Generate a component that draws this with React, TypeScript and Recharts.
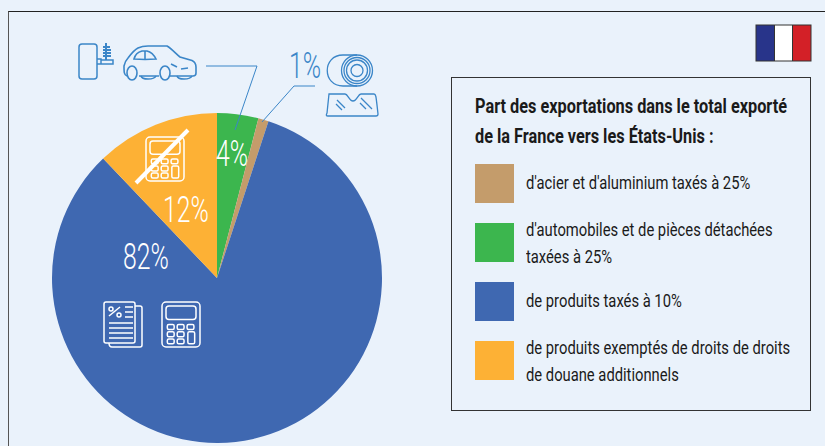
import { PieChart, Pie, Cell, Legend } from "recharts";

const sliceNames = ["automobiles", "acier", "produits taxés", "exemptés"];
const sliceValues = [4, 1, 82, 12];
const sliceColors = ["#3cb64e", "#c49c6b", "#3f68b1", "#fdb135"];

const legendTitle = ["Part des exportations dans le total exporté", "de la France vers les États-Unis :"];
const legendColors = ["#c49c6b", "#3cb64e", "#3f68b1", "#fdb135"];
const legendLabels = [
  ["d'acier et d'aluminium taxés à 25%"],
  ["d'automobiles et de pièces détachées", "taxées à 25%"],
  ["de produits taxés à 10%"],
  ["de produits exemptés de droits de droits", "de douane additionnels"],
];
const legendTops = [164, 223, 282, 341];

const font = "Roboto, sans-serif";
const blue = "#3b86c8";

const pieData = sliceNames.map((name, i) => ({ name, value: sliceValues[i] }));

function LegendBox() {
  return (
    <div style={{ position: "relative", width: 360, height: 334, boxSizing: "border-box", border: "1px solid #333", fontFamily: font, color: "#1a1a1a" }}>
      {legendTitle.map((t, i) => (
        <div
          key={t}
          style={{ position: "absolute", left: 23, top: 13 + i * 30, fontSize: 20, fontWeight: 700, whiteSpace: "nowrap", lineHeight: "30px", transform: "scaleX(0.815)", transformOrigin: "left" }}
        >
          {t}
        </div>
      ))}
      {legendColors.map((c, i) => (
        <div key={c}>
          <div style={{ position: "absolute", left: 23, top: legendTops[i] - 78, width: 39, height: 39, background: c }} />
          {legendLabels[i].map((l, j) => (
            <div
              key={l}
              style={{
                position: "absolute",
                left: 74,
                top: legendTops[i] - 78 + (legendLabels[i].length === 1 ? 5 : -7 + j * 27),
                fontSize: 18,
                lineHeight: "27px",
                whiteSpace: "nowrap",
                transform: "scaleX(0.82)",
                transformOrigin: "left",
              }}
            >
              {l}
            </div>
          ))}
        </div>
      ))}
    </div>
  );
}

function PctLabel({ x, y, value, fill }: { x: number; y: number; value: number; fill: string }) {
  return (
    <text x={x} y={y} fill={fill} fontSize={37} fontWeight={300} fontFamily={font} textAnchor="middle" transform={`translate(${x} 0) scale(0.67 1) translate(${-x} 0)`}>
      {value}%
    </text>
  );
}

function Calculator({ x, y, w, h }: { x: number; y: number; w: number; h: number }) {
  const cols = [0.14, 0.4, 0.66];
  const rows = [0.5, 0.66, 0.82];
  return (
    <g fill="none" stroke="#fff" strokeWidth={1.5}>
      <rect x={x} y={y} width={w} height={h} rx={4} />
      <rect x={x + 4} y={y + 4} width={w - 8} height={h * 0.3} rx={3} />
      {rows.map((r, i) =>
        cols.map((c, j) =>
          j === 2 && i > 0 ? null : (
            <rect key={`${i}-${j}`} x={x + w * c} y={y + h * r} width={w * 0.18} height={h * 0.11} rx={1.5} />
          ),
        ),
      )}
      <rect x={x + w * 0.68} y={y + h * 0.66} width={w * 0.18} height={h * 0.27} rx={1.5} />
    </g>
  );
}

function Overlay() {
  return (
    <svg width={825} height={446} style={{ position: "absolute", left: 0, top: 0, pointerEvents: "none" }}>
      {/* flag */}
      <rect x={756} y={25} width={19} height={36} fill="#28348a" />
      <rect x={775} y={25} width={18} height={36} fill="#fff" />
      <rect x={793} y={25} width={18} height={36} fill="#d32027" />
      <rect x={756} y={25} width={55} height={36} fill="none" stroke="#333" strokeWidth={1} />
      <path d="M774.5 25V61M792.5 25V61" stroke="#333" />

      {/* leaders */}
      <path d="M206 66H257L235 130" fill="none" stroke={blue} strokeWidth={1} />
      <path d="M315 86H294L262 122" fill="none" stroke={blue} strokeWidth={1} />

      {/* wheel and suspension */}
      <g fill="none" stroke={blue} strokeWidth={1.5}>
        <rect x={79} y={44} width={18} height={35} rx={3} />
        <path d="M97 59H101V64H97M101 60H113V64H101" />
        <path d="M106 60V43M103 47H110M103 50H111M103 53H111M103 56H111" strokeWidth={2} />
      </g>

      {/* car */}
      <g fill="none" stroke={blue} strokeWidth={1.6}>
        <path d="M127 76C124 75 124 72 124 66C125 62 126 60 128 58C131 54 134 50 138 48C142 46 145 46 148 46H167C172 49 176 54 180 57L192 60.5C195 62 196 64 196 67V73C196 75 195 76 193 76H170M159 76H139" />
        <path d="M141 76C142 80 154 80 156 76M177 76C178 80 190 80 192 76" />
        <path d="M134 59C135 55 138 52 142 51H147C151 52 154 55 156 59C150 59.5 140 59.5 134 59Z" />
        <path d="M145 51V59" />
        <ellipse cx={132} cy={73} rx={5} ry={7} />
        <ellipse cx={165} cy={73} rx={5} ry={7} />
        <path d="M171 64L177 67M181 69L188 68" />
      </g>

      {/* 1% with roll and windshield */}
      <g fill="none" stroke={blue} strokeWidth={1.3}>
        <path d="M357 55H343C322 55 322 86 343 86H357" />
        <circle cx={357} cy={70.5} r={15.5} />
        <circle cx={357} cy={70.5} r={13} />
        <circle cx={357} cy={70.5} r={10.5} />
        <circle cx={357} cy={70.5} r={6} />
        <path d="M329 94H345C348 94 349 101 353 101C357 101 358 94 361 94H374C376 94 376 96 378 114C378 115 378 116 376 116H328C326 116 326 115 327 113Z" />
        <path d="M337 100L345 108M336 104L342 110M361 98L372 109M360 103L366 109" />
      </g>
      <PctLabel x={305} y={78} value={sliceValues[1]} fill={blue} />

      {/* struck calculator */}
      <Calculator x={146} y={137} w={38} h={44} />
      <path d="M136 183L188 130" stroke="#fff" strokeWidth={4} />

      {/* documents and calculator */}
      <g fill="none" stroke="#fff" strokeWidth={1.5}>
        <rect x={104} y={302} width={31} height={41} rx={2} />
        <path d="M135 306H140C141 306 142 307 142 308V345C142 346 141 347 140 347H112C110 347 109 346 109 343" />
        <path d="M109 323H133M109 328H133M109 333H133M109 338H133" />
        <path d="M125 307H133M125 312H133M125 317H133" />
        <path d="M109 316L120 307" />
        <circle cx={111} cy={309} r={2} />
        <circle cx={119} cy={315} r={2} />
      </g>
      <Calculator x={162} y={302} w={38} h={45} />

      {/* slice values */}
      <PctLabel x={232} y={166} value={sliceValues[0]} fill="#fff" />
      <PctLabel x={186} y={222} value={sliceValues[3]} fill="#fff" />
      <PctLabel x={146} y={269} value={sliceValues[2]} fill="#fff" />
    </svg>
  );
}

export default function App() {
  return (
    <div style={{ position: "absolute", left: 0, top: 0, width: 825, height: 446, overflow: "hidden", background: "#eaf2fb" }}>
      <div style={{ position: "absolute", left: 8, top: 11, width: 830, height: 450, boxSizing: "border-box", borderLeft: "1px solid #555", borderTop: "1px solid #222" }} />
      <PieChart width={825} height={446} margin={{ top: 0, right: 0, bottom: 0, left: 0 }} style={{ position: "absolute", left: 0, top: 0 }}>
        <Pie
          data={pieData}
          dataKey="value"
          nameKey="name"
          cx={217}
          cy={278}
          outerRadius={165}
          startAngle={90}
          endAngle={-270}
          stroke="none"
          isAnimationActive={false}
        >
          {sliceColors.map((c) => (
            <Cell key={c} fill={c} />
          ))}
        </Pie>
        <Legend content={<LegendBox />} wrapperStyle={{ position: "absolute", left: 451, top: 77, width: 360, height: 334, bottom: "auto" }} />
      </PieChart>
      <Overlay />
    </div>
  );
}
